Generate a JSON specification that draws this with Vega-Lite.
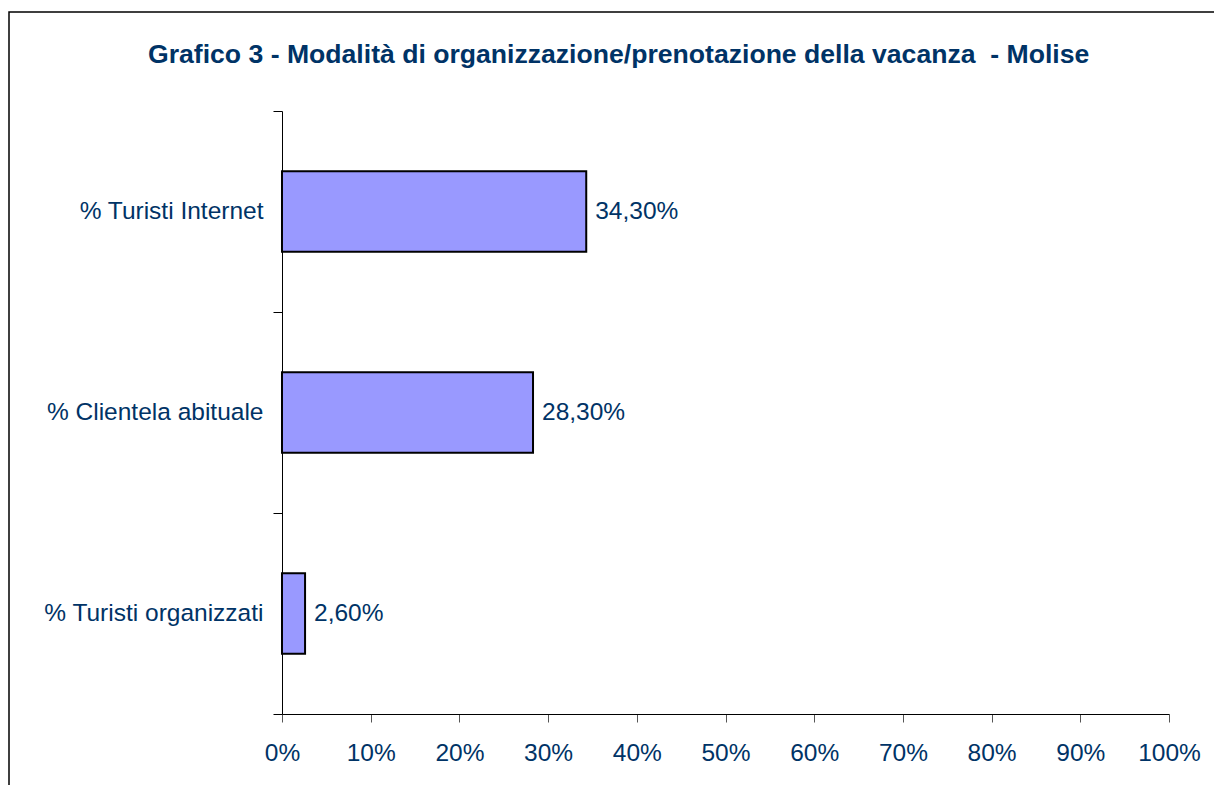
{
  "$schema": "https://vega.github.io/schema/vega-lite/v6.json",
  "autosize": {"type": "none"},
  "padding": {"left": 9, "top": 12, "right": -4, "bottom": -4},
  "width": 1209,
  "height": 777,
  "background": "white",
  "config": {
    "locale": {"number": {"decimal": ",", "thousands": ".", "grouping": [3], "currency": ["€", ""]}},
    "view": {"stroke": "black", "strokeWidth": 1.5},
    "font": "Liberation Sans"
  },
  "title": {
    "text": "Grafico 3 - Modalità di organizzazione/prenotazione della vacanza \u00a0- Molise",
    "anchor": "start",
    "frame": "group",
    "orient": "top",
    "offset": 0,
    "baseline": "alphabetic",
    "dx": 139,
    "dy": 91,
    "font": "Liberation Sans",
    "fontSize": 26.6,
    "fontWeight": "bold",
    "color": "#003366"
  },
  "data": {
    "values": [
      {"categoria": "% Turisti Internet", "valore": 0.343},
      {"categoria": "% Clientela abituale", "valore": 0.283},
      {"categoria": "% Turisti organizzati", "valore": 0.026}
    ]
  },
  "encoding": {
    "y": {
      "field": "categoria",
      "type": "nominal",
      "sort": null,
      "scale": {"range": [99, 702], "paddingInner": 0, "paddingOuter": 0},
      "axis": {
        "title": null,
        "offset": -273,
        "domainColor": "black",
        "domainWidth": 1,
        "tickColor": "black",
        "tickSize": 9,
        "tickBand": "extent",
        "labelFont": "Liberation Sans",
        "labelFontSize": 24.5,
        "labelColor": "#003366",
        "labelPadding": 10,
        "labelLimit": 400
      }
    },
    "x": {
      "field": "valore",
      "type": "quantitative",
      "scale": {"domain": [0, 1], "range": [273, 1160], "nice": false},
      "axis": {
        "title": null,
        "offset": -75,
        "format": ".0%",
        "values": [0, 0.1, 0.2, 0.3, 0.4, 0.5, 0.6, 0.7, 0.8, 0.9, 1],
        "grid": false,
        "domainColor": "black",
        "domainWidth": 1,
        "tickColor": "#555555",
        "tickSize": 8,
        "labelFont": "Liberation Sans",
        "labelFontSize": 24.5,
        "labelColor": "#003366",
        "labelPadding": 19,
        "labelFlush": false
      }
    }
  },
  "layer": [
    {
      "mark": {"type": "bar", "color": "#9999FF", "stroke": "black", "strokeWidth": 2, "height": {"band": 0.4}}
    },
    {
      "mark": {"type": "text", "align": "left", "baseline": "middle", "dx": 9, "fontSize": 24.5, "color": "#003366", "font": "Liberation Sans"},
      "encoding": {"text": {"field": "valore", "type": "quantitative", "format": ".2%"}}
    }
  ]
}
